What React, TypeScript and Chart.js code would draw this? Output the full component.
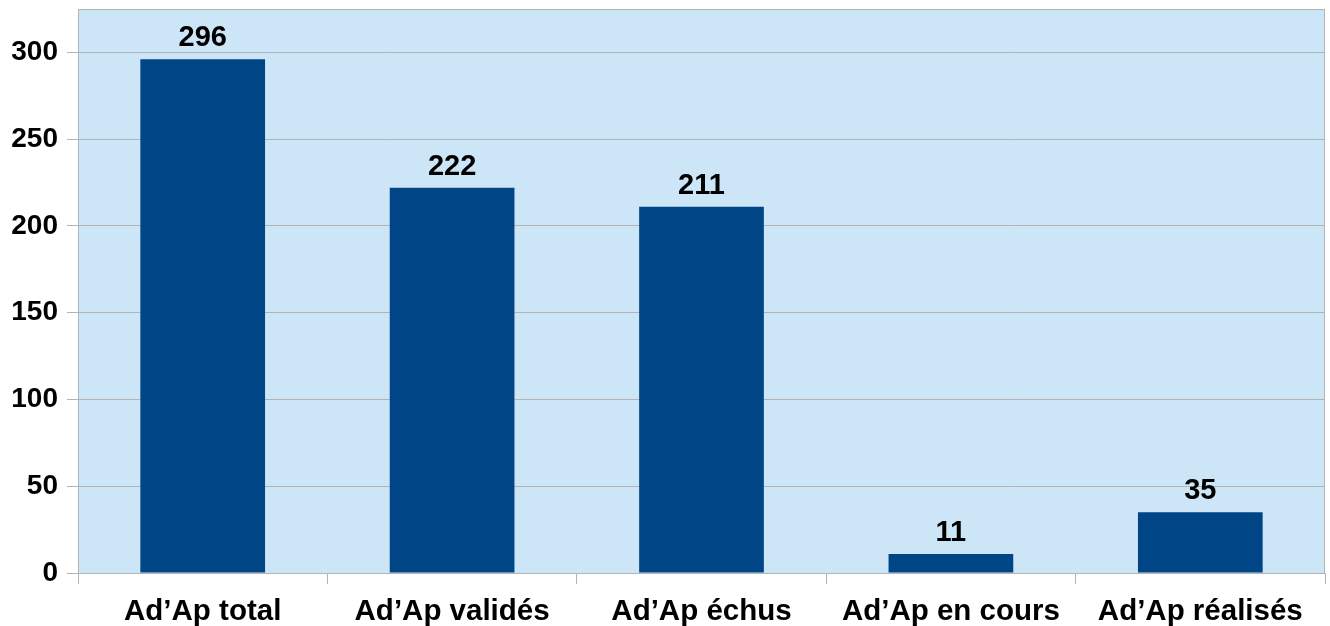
import React, { useEffect, useRef } from "react";
import { Chart, registerables } from "chart.js";

Chart.register(...registerables);

const categories = ["Ad’Ap total", "Ad’Ap validés", "Ad’Ap échus", "Ad’Ap en cours", "Ad’Ap réalisés"];
const values = [296, 222, 211, 11, 35];
const yTicks = [0, 50, 100, 150, 200, 250, 300];

const FONT = '"Liberation Sans", Arial, sans-serif';
const GRID = "#b3b3b3";

export default function App() {
  const ref = useRef<HTMLCanvasElement | null>(null);

  useEffect(() => {
    document.body.style.margin = "0";
    const canvas = ref.current!;
    const bgPlugin = {
      id: "bg",
      beforeDraw(chart: any) {
        const { ctx, chartArea: a } = chart;
        ctx.save();
        ctx.fillStyle = "#cce6f8";
        ctx.fillRect(a.left, a.top, a.right - a.left, a.bottom - a.top);
        ctx.restore();
      },
      beforeDatasetsDraw(chart: any) {
        const { ctx, chartArea: a } = chart;
        ctx.save();
        ctx.strokeStyle = GRID;
        ctx.lineWidth = 1;
        ctx.strokeRect(a.left + 0.5, a.top + 0.5, a.right - a.left - 1, a.bottom - a.top);
        ctx.restore();
      },
      afterDatasetsDraw(chart: any) {
        const { ctx } = chart;
        const meta = chart.getDatasetMeta(0);
        ctx.save();
        ctx.font = `bold 29px ${FONT}`;
        ctx.fillStyle = "#000";
        ctx.textAlign = "center";
        ctx.textBaseline = "alphabetic";
        meta.data.forEach((el: any, i: number) => {
          ctx.fillText(String(values[i]), el.x, el.y - 13);
        });
        ctx.restore();
      },
    };

    const chart = new Chart(canvas, {
      type: "bar",
      data: {
        labels: categories,
        datasets: [
          {
            data: values,
            backgroundColor: "#004586",
            barPercentage: 0.5,
            categoryPercentage: 1,
          },
        ],
      },
      options: {
        animation: false,
        responsive: false,
        maintainAspectRatio: false,
        layout: { padding: { top: 9, right: 5, left: 0, bottom: 0 } },
        plugins: { legend: { display: false }, tooltip: { enabled: false } },
        scales: {
          x: {
            offset: true,
            grid: {
              display: true,
              drawOnChartArea: false,
              drawTicks: true,
              tickLength: 11,
              color: GRID,
              offset: true,
            },
            border: { display: true, color: GRID },
            ticks: {
              color: "#000",
              font: { family: FONT, size: 29.5, weight: "bold" },
              padding: 10,
              maxRotation: 0,
              autoSkip: false,
            },
            afterFit(scale: any) {
              scale.height = 53;
              scale.paddingLeft = 0;
              scale.paddingRight = 0;
            },
          },
          y: {
            min: 0,
            max: 325,
            grid: { color: GRID, tickLength: 11, drawTicks: true },
            border: { display: true, color: GRID },
            ticks: {
              color: "#000",
              font: { family: FONT, size: 28, weight: "bold" },
              padding: 9,
            },
            afterBuildTicks(scale: any) {
              scale.ticks = yTicks.map((v) => ({ value: v }));
            },
            afterFit(scale: any) {
              scale.width = 78;
              scale.paddingTop = 0;
              scale.paddingBottom = 0;
            },
          },
        },
      },
      plugins: [bgPlugin],
    });
    return () => chart.destroy();
  }, []);

  return (
    <div style={{ width: 1330, height: 626 }}>
      <canvas ref={ref} width={1330} height={626} style={{ display: "block" }} />
    </div>
  );
}
